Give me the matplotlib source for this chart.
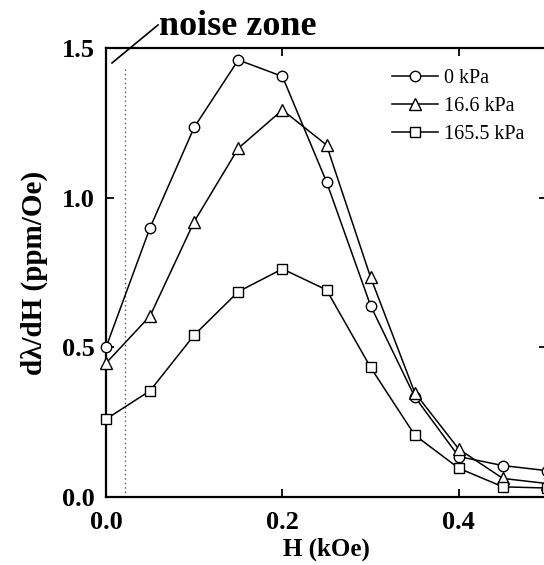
import matplotlib
matplotlib.use("Agg")
import matplotlib.pyplot as plt

plt.rcParams['font.family'] = ['Liberation Serif', 'DejaVu Serif']

H = [0.0, 0.05, 0.10, 0.15, 0.20, 0.25, 0.30, 0.35, 0.40, 0.45, 0.50]
p0 = [0.50, 0.90, 1.235, 1.46, 1.405, 1.053, 0.639, 0.335, 0.135, 0.105, 0.088]
p16 = [0.447, 0.605, 0.92, 1.165, 1.293, 1.176, 0.734, 0.349, 0.160, 0.062, 0.045]
p165 = [0.26, 0.355, 0.541, 0.686, 0.762, 0.692, 0.433, 0.207, 0.096, 0.034, 0.030]
labels = ['0 kPa', '16.6 kPa', '165.5 kPa']
xticks = [0.0, 0.2, 0.4]
yticks = [0.0, 0.5, 1.0, 1.5]
noise_H = 0.022

W, Hpx = 544, 565
fig = plt.figure(figsize=(W/100, Hpx/100), dpi=100)
x0, x1, y0, y1 = 106, 547, 48, 497
ax = fig.add_axes([x0/W, 1 - y1/Hpx, (x1-x0)/W, (y1-y0)/Hpx])

series = [(p0, 'o', 7.5), (p16, '^', 9), (p165, 's', 6.5)]
for (vals, m, ms), lab in zip(series, labels):
    ax.plot(H, vals, color='black', lw=1.1, marker=m, ms=ms,
            mfc='white', mec='black', mew=1.0, label=lab, clip_on=False, zorder=3)

ax.set_xlim(0, 0.5)
ax.set_ylim(0, 1.5)
ax.set_xticks(xticks)
ax.set_yticks(yticks)
ax.set_xticklabels([f'{v:.1f}' for v in xticks])
ax.set_yticklabels([f'{v:.1f}' for v in yticks])
ax.tick_params(direction='in', length=6, width=1.3, top=True, right=True,
               labelsize=19)
ax.tick_params(axis='x', pad=10)
ax.tick_params(axis='y', pad=8)
for t in ax.get_xticklabels() + ax.get_yticklabels():
    t.set_fontweight('bold')
for s in ax.spines.values():
    s.set_linewidth(1.6)

# noise zone dotted line
ax.plot([noise_H, noise_H], [0, 1.43], color='#555555', lw=1.0,
        linestyle=(0, (1, 2.2)), zorder=1)
# annotation leader
ax.plot([0.0068, 0.059], [1.45, 1.577], color='black', lw=1.2, clip_on=False)
fig.text(159/W, 1 - 35/Hpx, 'noise zone', ha='left', va='baseline',
         fontsize=26, fontweight='bold')

ax.set_xlabel('H (kOe)', fontsize=18, fontweight='bold', labelpad=3)
ax.set_ylabel('dλ/dH (ppm/Oe)', fontsize=21, fontweight='bold', labelpad=10)

leg = ax.legend(loc='upper left', bbox_to_anchor=((392-x0)/(x1-x0), 1 - (69-y0)/(y1-y0)),
                frameon=False, fontsize=14.5, handlelength=2.3, handletextpad=0.3,
                labelspacing=0.45, borderaxespad=0, borderpad=0)

fig.savefig('out.png', dpi=100)
